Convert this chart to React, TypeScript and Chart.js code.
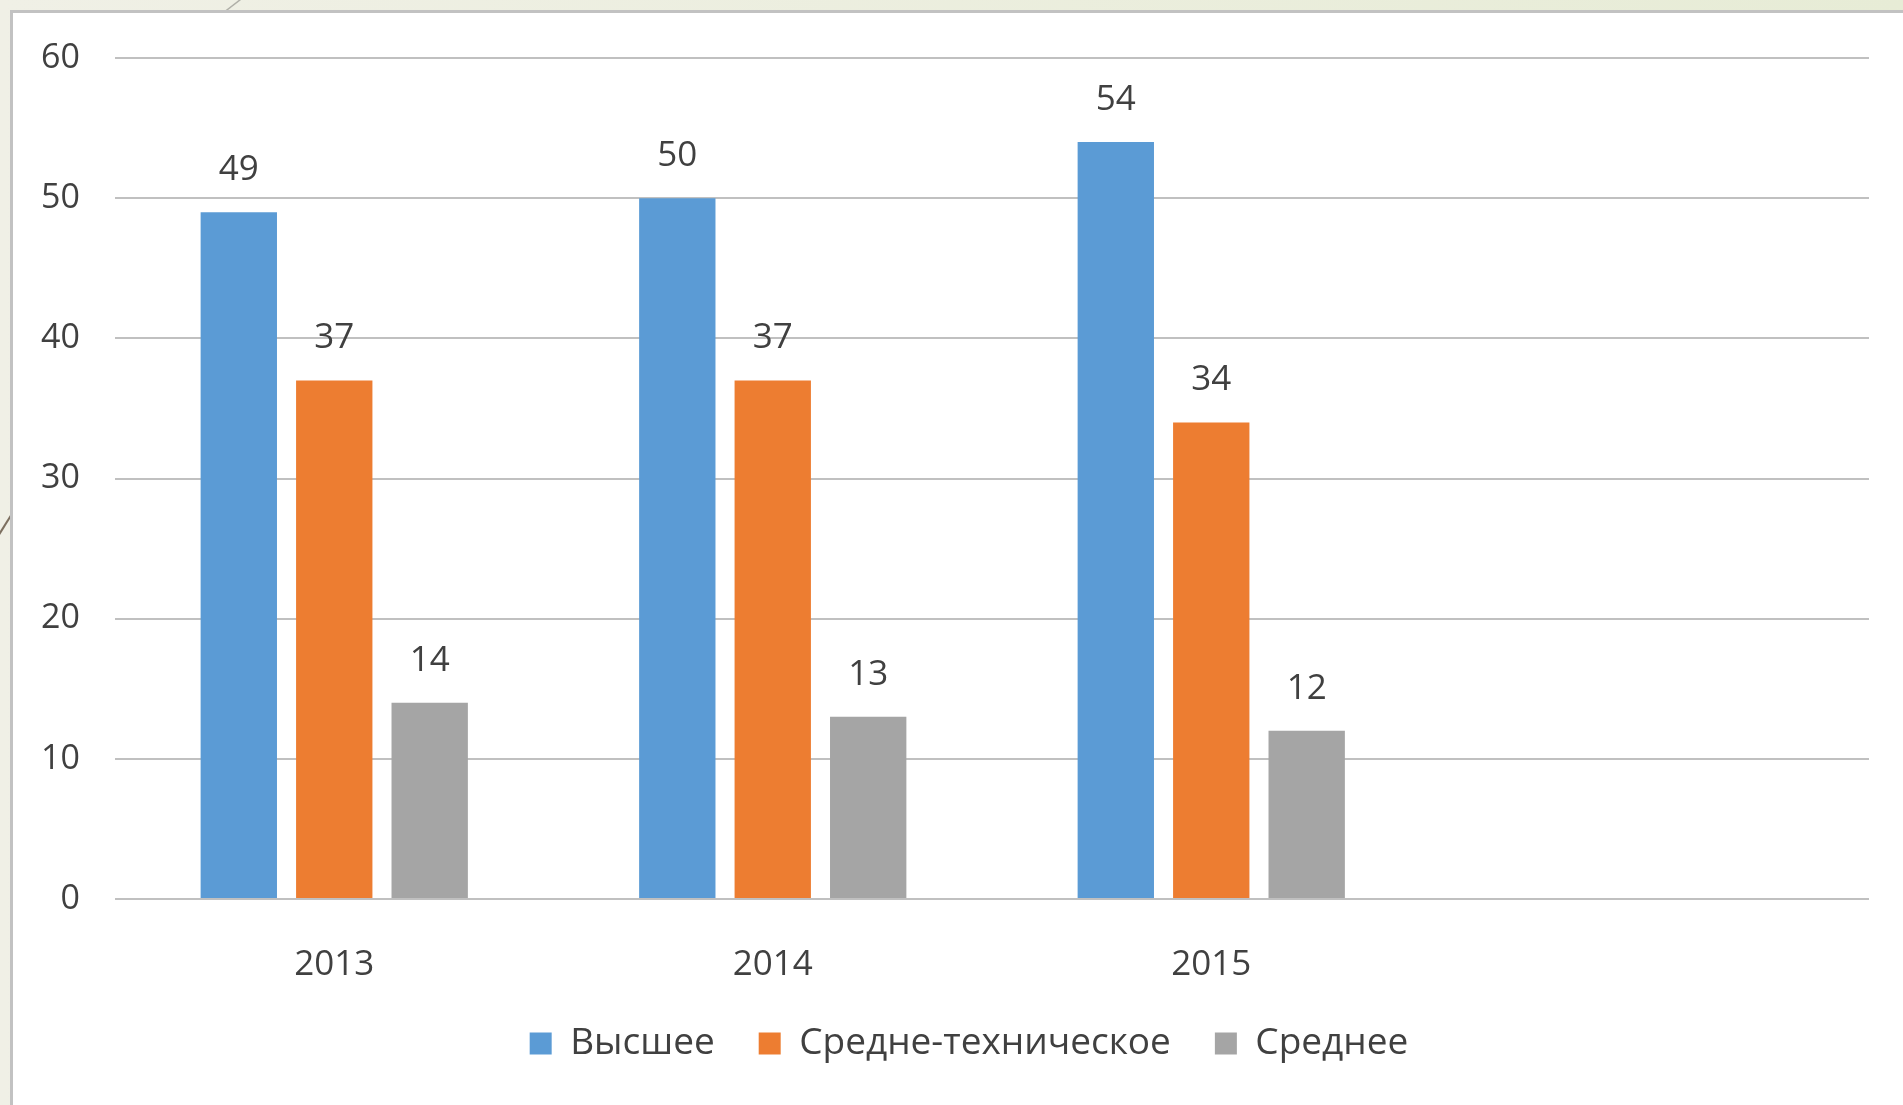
import React, { useEffect, useRef } from "react";
import { Chart, registerables } from "chart.js";

Chart.register(...registerables);

const categories = ["2013", "2014", "2015", ""];
const higherValues = [49, 50, 54, null];
const techValues = [37, 37, 34, null];
const secondaryValues = [14, 13, 12, null];
const seriesNames = ["Высшее", "Средне-техническое", "Среднее"];
const yTicks = [0, 10, 20, 30, 40, 50, 60];

const FONT = "'Open Sans', 'DejaVu Sans', sans-serif";
const TEXT = "#404040";

const valueLabels = {
  id: "valueLabels",
  afterDatasetsDraw(chart: any) {
    const ctx = chart.ctx;
    ctx.save();
    ctx.font = `35px ${FONT}`;
    ctx.fillStyle = TEXT;
    ctx.textAlign = "center";
    ctx.textBaseline = "middle";
    chart.data.datasets.forEach((ds: any, di: number) => {
      const meta = chart.getDatasetMeta(di);
      meta.data.forEach((el: any, i: number) => {
        const v = ds.data[i];
        if (v === null || v === undefined) return;
        ctx.fillText(String(v), el.x, el.y - 42);
      });
    });
    ctx.restore();
  },
};

const yLabels = {
  id: "yLabels",
  afterDraw(chart: any) {
    const ctx = chart.ctx;
    const y = chart.scales.y;
    ctx.save();
    ctx.font = `34px ${FONT}`;
    ctx.fillStyle = TEXT;
    ctx.textAlign = "right";
    ctx.textBaseline = "middle";
    yTicks.forEach((v) => {
      ctx.fillText(String(v), chart.chartArea.left - 35, y.getPixelForValue(v));
    });
    ctx.restore();
  },
};

export default function App() {
  const ref = useRef<HTMLCanvasElement | null>(null);
  useEffect(() => {
    if (!ref.current) return;
    const chart = new Chart(ref.current, {
      type: "bar",
      data: {
        labels: categories,
        datasets: [
          { label: seriesNames[0], data: higherValues, backgroundColor: "#5B9BD5" },
          { label: seriesNames[1], data: techValues, backgroundColor: "#ED7D31" },
          { label: seriesNames[2], data: secondaryValues, backgroundColor: "#A5A5A5" },
        ],
      },
      options: {
        responsive: false,
        maintainAspectRatio: false,
        animation: false,
        datasets: { bar: { categoryPercentage: 0.653, barPercentage: 0.8 } },
        layout: { padding: { left: 56, right: 34, top: 45, bottom: 33 } },
        plugins: {
          tooltip: { enabled: false },
          legend: {
            position: "bottom",
            labels: {
              boxWidth: 22,
              boxHeight: 22,
              padding: 44,
              color: TEXT,
              font: { size: 37, family: FONT },
            },
          },
        },
        scales: {
          x: {
            grid: { display: false, drawTicks: false },
            border: { display: false },
            ticks: { color: TEXT, font: { size: 35, family: FONT }, padding: 45 },
            afterFit: (s: any) => { s.height = 82; },
          },
          y: {
            min: 0,
            max: 60,
            afterBuildTicks: (s: any) => { s.ticks = yTicks.map((v) => ({ value: v })); },
            grid: { color: "#c0c0c0", lineWidth: 2, drawTicks: false },
            border: { display: false },
            ticks: { display: false },
            afterFit: (s: any) => { s.width = 46; },
          },
        },
      },
      plugins: [valueLabels, yLabels],
    });
    return () => chart.destroy();
  }, []);

  return (
    <div style={{ position: "fixed", left: 0, top: 0, width: 1903, height: 1105, overflow: "hidden", background: "linear-gradient(90deg, #f0f0e6 0%, #e7ecd6 100%)" }}>
      <svg width={1903} height={1105} style={{ position: "absolute", left: 0, top: 0 }}>
        <line x1={-10} y1={549} x2={30} y2={485} stroke="#7d7060" strokeWidth={2} />
        <line x1={214} y1={20} x2={245} y2={-4} stroke="#b0b0a8" strokeWidth={1.5} />
      </svg>
      <div style={{ position: "absolute", left: 10, top: 10, width: 1920, height: 1120, background: "#ffffff", border: "3px solid #c2c2c2", boxSizing: "border-box" }} />
      <canvas ref={ref} width={1890} height={1092} style={{ position: "absolute", left: 13, top: 13, width: 1890, height: 1092 }} />
    </div>
  );
}
